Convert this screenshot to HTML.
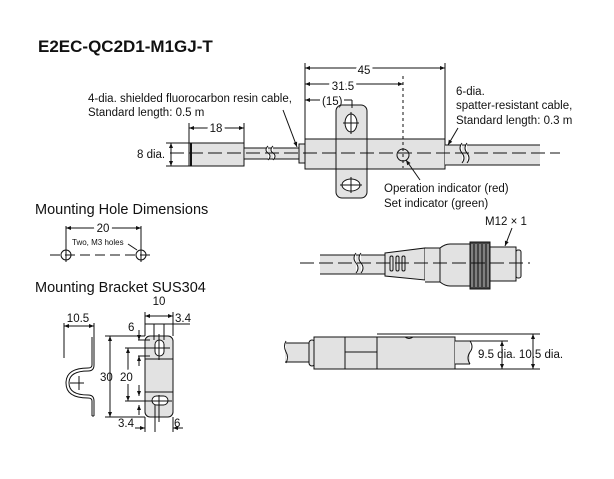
<!DOCTYPE html>
<html><head><meta charset="utf-8"><style>
html,body{margin:0;padding:0;background:#fff}
svg{display:block}
text{font-family:"Liberation Sans",Arial,sans-serif;fill:#111}
</style></head><body>
<svg width="614" height="479" viewBox="0 0 614 479" xmlns="http://www.w3.org/2000/svg">
<defs>
<marker id="a" viewBox="0 0 10 10" refX="10" refY="5" markerWidth="7" markerHeight="5" orient="auto-start-reverse"><path d="M0,1 L10,5 L0,9 z" fill="#111"/></marker>
</defs>
<g stroke="#111" stroke-width="1" fill="none">
<line x1="170" y1="153" x2="560" y2="153" stroke-dasharray="14,5"/>
<rect x="189" y="143" width="55" height="23" fill="#e2e2e2"/>
<line x1="191" y1="143" x2="191" y2="166" stroke-width="2"/>
<rect x="245" y="148" width="55" height="11" fill="#e2e2e2" stroke="none"/>
<path d="M244 148 H300 M244 159 H300"/>
<path d="M268 146 q-4 4 0 7 q4 3 0 7 M273 146 q-4 4 0 7 q4 3 0 7" fill="#fff"/>
<rect x="299" y="144" width="6" height="19" fill="#e2e2e2"/>
<rect x="305" y="139" width="140" height="30" fill="#e2e2e2"/>
<rect x="336" y="105" width="31" height="93" rx="6" fill="#e2e2e2"/>
<line x1="336" y1="139" x2="367" y2="139"/><line x1="336" y1="169" x2="367" y2="169"/>
<ellipse cx="351" cy="123" rx="6" ry="9" fill="#fff"/><line x1="343" y1="123" x2="359" y2="123"/><line x1="351" y1="112" x2="351" y2="134"/>
<ellipse cx="351" cy="185" rx="9" ry="6" fill="#fff"/><line x1="340" y1="185" x2="362" y2="185"/><line x1="351" y1="177" x2="351" y2="193"/>
<circle cx="403" cy="155" r="6" fill="#e2e2e2"/>
<line x1="403" y1="76" x2="403" y2="168" stroke-dasharray="3,3"/>
<rect x="445" y="145" width="95" height="20" fill="#e2e2e2" stroke="none"/>
<path d="M445 145 H540 M445 165 H540"/>
<line x1="170" y1="153" x2="560" y2="153" stroke-dasharray="14,5"/>
<path d="M462 143 q-4 5 0 10 q4 5 0 10 M467 143 q-4 5 0 10 q4 5 0 10" fill="#fff"/>
<line x1="305" y1="63" x2="305" y2="139"/><line x1="445" y1="63" x2="445" y2="139"/>
<line x1="305" y1="68" x2="445" y2="68" marker-start="url(#a)" marker-end="url(#a)"/>
<line x1="305" y1="84" x2="403" y2="84" marker-start="url(#a)" marker-end="url(#a)"/>
<line x1="305" y1="100" x2="320" y2="100" marker-start="url(#a)"/>
<line x1="352" y1="100" x2="352" y2="108"/><line x1="344" y1="100" x2="352" y2="100"/>
<line x1="189" y1="123" x2="189" y2="143"/><line x1="244" y1="123" x2="244" y2="143"/>
<line x1="189" y1="128" x2="244" y2="128" marker-start="url(#a)" marker-end="url(#a)"/>
<line x1="166" y1="143" x2="189" y2="143"/><line x1="166" y1="166" x2="189" y2="166"/>
<line x1="171" y1="143" x2="171" y2="166" marker-start="url(#a)" marker-end="url(#a)"/>
<line x1="283" y1="110" x2="297" y2="147" marker-end="url(#a)"/>
<line x1="458" y1="128" x2="448" y2="145" marker-end="url(#a)"/>
<line x1="420" y1="180" x2="406" y2="160" marker-end="url(#a)"/>
<line x1="50" y1="255" x2="155" y2="255" stroke-dasharray="10,5"/>
<circle cx="66" cy="255" r="5"/><circle cx="141" cy="255" r="5"/>
<line x1="66" y1="226" x2="66" y2="262"/><line x1="141" y1="226" x2="141" y2="262"/>
<line x1="66" y1="228" x2="141" y2="228" marker-start="url(#a)" marker-end="url(#a)"/>
<path d="M128 244 L137 250"/>
<path d="M92 337 V365 Q92 368 88 368 Q66 368 66 383 Q66 398 88 398 Q92 398 92 401 V416 M94 337 V365 Q94 371 88 371 Q69 371 69 383 Q69 395 88 395 Q94 395 94 401 V416 M92 416 H94" fill="none"/>
<line x1="70" y1="383" x2="84" y2="383"/><line x1="79" y1="376" x2="79" y2="390"/>
<line x1="64" y1="323" x2="64" y2="358"/><line x1="94" y1="323" x2="94" y2="337"/>
<line x1="64" y1="326" x2="94" y2="326" marker-start="url(#a)" marker-end="url(#a)"/>
<rect x="145" y="336" width="28" height="81" rx="5" fill="#e2e2e2"/>
<line x1="145" y1="359" x2="173" y2="359"/><line x1="145" y1="392" x2="173" y2="392"/>
<rect x="155" y="340" width="9" height="16" rx="4.5" fill="#fff"/>
<rect x="152" y="396" width="16" height="9" rx="4.5" fill="#fff"/>
<line x1="138" y1="348" x2="170" y2="348"/><line x1="159" y1="334" x2="159" y2="360"/>
<line x1="138" y1="401" x2="172" y2="401"/><line x1="159" y1="395" x2="159" y2="422"/>
<line x1="145" y1="312" x2="145" y2="336"/><line x1="173" y1="312" x2="173" y2="336"/>
<line x1="145" y1="316" x2="173" y2="316" marker-start="url(#a)" marker-end="url(#a)"/>
<line x1="154" y1="324" x2="154" y2="340"/><line x1="164" y1="324" x2="164" y2="340"/>
<line x1="145" y1="324" x2="190" y2="324"/>
<line x1="105" y1="336" x2="145" y2="336"/><line x1="105" y1="417" x2="145" y2="417"/>
<line x1="110" y1="336" x2="110" y2="417" marker-start="url(#a)" marker-end="url(#a)"/>
<line x1="125" y1="348" x2="138" y2="348"/><line x1="125" y1="401" x2="138" y2="401"/>
<line x1="128" y1="348" x2="128" y2="401" marker-start="url(#a)" marker-end="url(#a)"/>
<line x1="138" y1="340" x2="150" y2="340"/><line x1="138" y1="356" x2="150" y2="356"/>
<line x1="139" y1="330" x2="139" y2="340" marker-end="url(#a)"/><line x1="139" y1="366" x2="139" y2="356" marker-end="url(#a)"/>
<line x1="139" y1="385" x2="139" y2="396" marker-end="url(#a)"/><line x1="139" y1="415" x2="139" y2="405" marker-end="url(#a)"/>
<line x1="145" y1="417" x2="145" y2="432"/><line x1="173" y1="417" x2="173" y2="432"/>
<line x1="155" y1="405" x2="155" y2="432"/>
<line x1="135" y1="428" x2="145" y2="428" marker-end="url(#a)"/><line x1="183" y1="428" x2="173" y2="428" marker-end="url(#a)"/>
<rect x="320" y="255" width="65" height="19" fill="#e2e2e2" stroke="none"/>
<path d="M320 255 H385 M320 274 H385"/>
<path d="M356 253 q-4 5 0 10 q4 5 0 10 M361 253 q-4 5 0 10 q4 5 0 10" fill="#fff"/>
<path d="M385 253 L425 248 V280 L385 276 Z" fill="#e2e2e2"/>
<rect x="390" y="256" width="3" height="15" rx="1.5"/><rect x="396" y="256" width="3" height="15" rx="1.5"/><rect x="402" y="256" width="3" height="15" rx="1.5"/>
<path d="M425 248 H440 Q445 244 450 244 H470 V286 H450 Q445 286 440 282 H425" fill="#e2e2e2"/>
<line x1="440" y1="248" x2="440" y2="282"/>
<rect x="470" y="242" width="20" height="47" fill="#444"/>
<g stroke="#bbb"><line x1="472" y1="244" x2="472" y2="287"/><line x1="476" y1="244" x2="476" y2="287"/><line x1="480" y1="244" x2="480" y2="287"/><line x1="484" y1="244" x2="484" y2="287"/><line x1="488" y1="244" x2="488" y2="287"/></g>
<rect x="490" y="247" width="26" height="34" fill="#e2e2e2"/>
<rect x="516" y="250" width="5" height="28" rx="2" fill="#e2e2e2"/>
<line x1="300" y1="263" x2="530" y2="263" stroke-dasharray="14,5"/>
<line x1="512" y1="228" x2="505" y2="246" marker-end="url(#a)"/>
<rect x="285" y="343" width="25" height="19" fill="#e2e2e2" stroke="none"/>
<path d="M285 343 H310 M285 362 H310"/>
<path d="M286 341 q-3 5 0 11 q3 5 0 11" fill="#fff"/>
<rect x="309" y="340" width="6" height="26" rx="3" fill="#e2e2e2"/>
<rect x="314" y="337" width="141" height="32" fill="#e2e2e2"/>
<line x1="345" y1="337" x2="345" y2="369"/><line x1="377" y1="337" x2="377" y2="369"/>
<line x1="345" y1="352" x2="377" y2="352"/>
<path d="M405 337 q4 3 8 0"/>
<rect x="455" y="341" width="15" height="23" fill="#e2e2e2" stroke="none"/>
<path d="M455 341 H470 M455 364 H470"/>
<path d="M470 341 q4 6 0 11 q-4 6 0 12"/>
<line x1="377" y1="334" x2="540" y2="334"/><line x1="455" y1="341" x2="508" y2="341"/>
<line x1="455" y1="369" x2="540" y2="369"/>
<line x1="502" y1="341" x2="502" y2="369" marker-start="url(#a)" marker-end="url(#a)"/>
<line x1="533" y1="334" x2="533" y2="369" marker-start="url(#a)" marker-end="url(#a)"/>
</g>
<text x="38" y="52" font-size="17" font-weight="bold">E2EC-QC2D1-M1GJ-T</text>
<g font-size="11.5">
<text x="364" y="74" text-anchor="middle" style="paint-order:stroke" stroke="#fff" stroke-width="6">45</text>
<text x="343" y="90" text-anchor="middle" style="paint-order:stroke" stroke="#fff" stroke-width="6">31.5</text>
<text x="322" y="105">(15)</text>
<text x="88" y="102">4-dia. shielded fluorocarbon resin cable,</text>
<text x="88" y="116">Standard length: 0.5 m</text>
<text x="216" y="132" text-anchor="middle" style="paint-order:stroke" stroke="#fff" stroke-width="6">18</text>
<text x="137" y="158">8 dia.</text>
<text x="456" y="95">6-dia.</text>
<text x="456" y="109">spatter-resistant cable,</text>
<text x="456" y="124">Standard length: 0.3 m</text>
<text x="384" y="192">Operation indicator (red)</text>
<text x="384" y="207">Set indicator (green)</text>
<text x="103" y="232" text-anchor="middle" style="paint-order:stroke" stroke="#fff" stroke-width="6">20</text>
<text x="485" y="225">M12 × 1</text>
<text x="478" y="358">9.5 dia. 10.5 dia.</text>
<text x="78" y="322" text-anchor="middle">10.5</text>
<text x="159" y="305" text-anchor="middle">10</text>
<text x="175" y="322">3.4</text>
<text x="128" y="331">6</text>
<text x="100" y="381">30</text>
<text x="120" y="381" style="paint-order:stroke" stroke="#fff" stroke-width="6">20</text>
<text x="118" y="427">3.4</text>
<text x="174" y="427">6</text>
</g>
<text x="72" y="245" font-size="8">Two, M3 holes</text>
<g font-size="14.5">
<text x="35" y="214">Mounting Hole Dimensions</text>
<text x="35" y="292">Mounting Bracket SUS304</text>
</g>
</svg>
</body></html>
